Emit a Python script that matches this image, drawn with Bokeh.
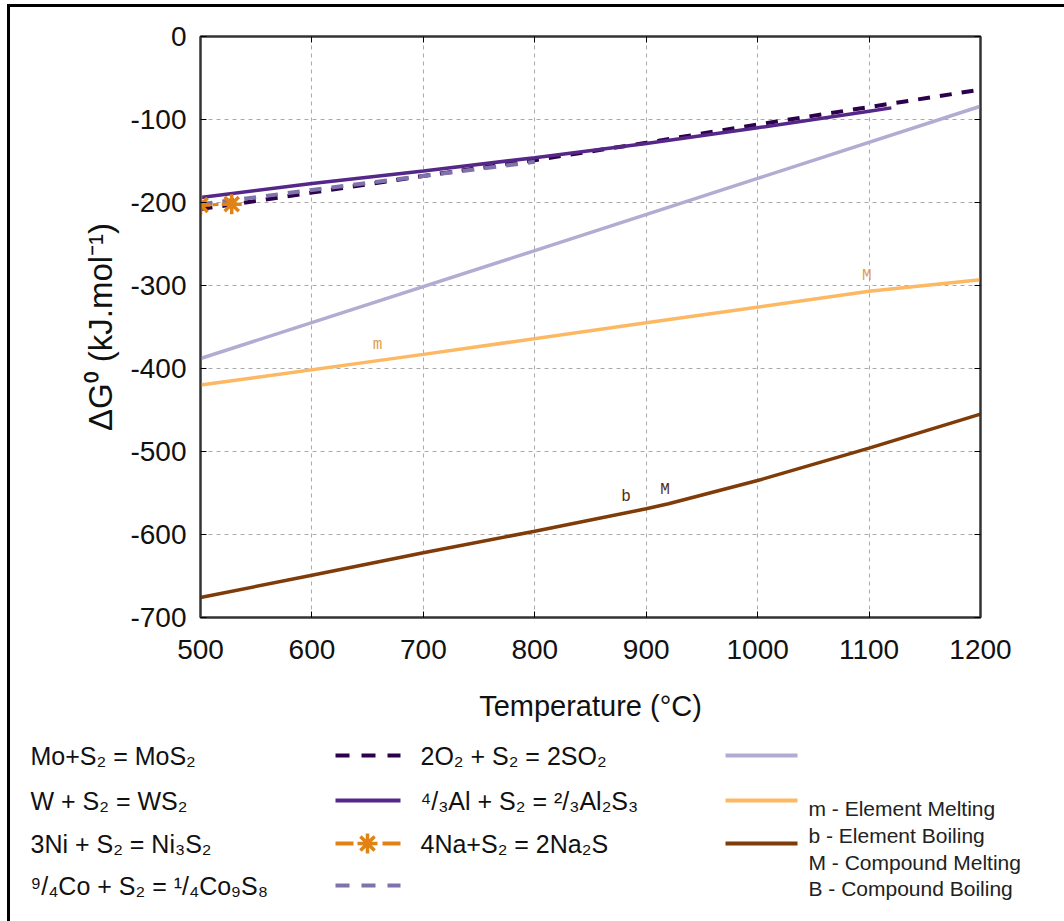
from bokeh.plotting import figure
from bokeh.layouts import column, row
from bokeh.models import Range1d, FixedTicker, LinearAxis
from bokeh.core.properties import value
from bokeh.embed import file_html
from bokeh.resources import INLINE

# ---- data ----
x_ticks = [500, 600, 700, 800, 900, 1000, 1100, 1200]
x_tick_labels = ["500", "600", "700", "800", "900", "1000", "1100", "1200"]
y_ticks = [0, -100, -200, -300, -400, -500, -600, -700]
y_tick_labels = ["0", "-100", "-200", "-300", "-400", "-500", "-600", "-700"]

t_mo = [500, 600, 700, 800, 900, 1000, 1100, 1200]
dg_mo = [-208, -188, -168, -149, -128, -106, -85, -64]

t_w = [500, 600, 700, 800, 900, 1000, 1100, 1120]
dg_w = [-194, -177, -162, -146, -129, -110, -90, -86]

t_ni = [500, 528]
dg_ni = [-203, -202]

t_co = [500, 600, 700, 800]
dg_co = [-202, -185, -168, -151]

t_so2 = [500, 800, 1000, 1200]
dg_so2 = [-388, -258, -171, -84]

t_al = [500, 700, 900, 1100, 1200]
dg_al = [-420, -383, -345, -307, -293]

t_na = [500, 600, 700, 800, 900, 920, 1000, 1100, 1200]
dg_na = [-676, -649, -622, -596, -569, -563, -535, -496, -455]

al_mark_t = [659, 1098]
al_mark_dg = [-372, -288]
al_mark_txt = ["m", "M"]

na_mark_t = [882, 917]
na_mark_dg = [-555, -546]
na_mark_txt = ["b", "M"]

names_col1 = ["Mo+S₂ = MoS₂", "W + S₂ = WS₂", "3Ni + S₂ = Ni₃S₂", "⁹/₄Co + S₂ = ¹/₄Co₉S₈"]
names_col2 = ["2O₂ + S₂ = 2SO₂", "⁴/₃Al + S₂ = ²/₃Al₂S₃", "4Na+S₂ = 2Na₂S"]
notes = ["m - Element Melting", "b  - Element Boiling", "M - Compound Melting", "B  - Compound Boiling"]

C_MO, C_W, C_NI, C_CO = "#2d004b", "#542788", "#e08214", "#8073ac"
C_SO2, C_AL, C_NA = "#b2abd2", "#fdb863", "#7f3b08"

FONT = "Liberation Sans"

# ---- main chart ----
p = figure(width=1054, height=718, output_backend="svg", toolbar_location=None,
           x_range=Range1d(500, 1200), y_range=Range1d(-700, 0),
           min_border_left=190, min_border_right=84, min_border_top=29, min_border_bottom=108)
p.outline_line_color = "#333333"
p.outline_line_width = 2
p.border_fill_color = "white"

for ax in (p.xaxis[0], p.yaxis[0]):
    ax.major_label_text_font = FONT
    ax.major_label_text_font_size = "28px"
    ax.major_label_text_color = "#111111"
    ax.axis_label_text_font = FONT
    ax.axis_label_text_font_style = "normal"
    ax.axis_label_text_color = "#111111"
    ax.major_tick_in = 6
    ax.major_tick_out = 0
    ax.minor_tick_line_color = None
    ax.axis_line_color = "#333333"
    ax.axis_line_width = 2

p.xaxis.ticker = FixedTicker(ticks=x_ticks)
p.yaxis.ticker = FixedTicker(ticks=y_ticks)
p.xaxis.major_label_overrides = dict(zip(x_ticks, x_tick_labels))
p.yaxis.major_label_overrides = dict(zip(y_ticks, y_tick_labels))
p.xaxis.axis_label = "Temperature (°C)"
p.yaxis.axis_label = "ΔG⁰ (kJ.mol⁻¹)"
p.xaxis.axis_label_text_font_size = "29px"
p.yaxis.axis_label_text_font_size = "33px"
p.xaxis.major_label_standoff = 22
p.xaxis.axis_label_standoff = 28
p.yaxis.major_label_standoff = 14
p.yaxis.axis_label_standoff = 8

for side, ticks in (("right", y_ticks), ("above", x_ticks)):
    a = LinearAxis(ticker=FixedTicker(ticks=ticks),
                   major_label_overrides={t: "" for t in ticks},
                   major_tick_in=6, major_tick_out=0, major_label_standoff=0,
                   minor_tick_line_color=None, axis_line_color="#333333", axis_line_width=2)
    p.add_layout(a, side)

p.grid.grid_line_color = "#aaaaaa"
p.grid.grid_line_dash = "4 4"
p.grid.grid_line_width = 1

p.line(t_so2, dg_so2, line_color=C_SO2, line_width=3.5)
p.line(t_al, dg_al, line_color=C_AL, line_width=3.5)
p.line(t_na, dg_na, line_color=C_NA, line_width=3.5)
p.line(t_mo, dg_mo, line_color=C_MO, line_width=4, line_dash="12 10")
p.line(t_w, dg_w, line_color=C_W, line_width=3.5)
p.line(t_co, dg_co, line_color=C_CO, line_width=4, line_dash="12 10")
p.line(t_ni, dg_ni, line_color=C_NI, line_width=3, line_dash="6 6")
p.scatter(t_ni, dg_ni, marker="asterisk", size=20, line_color=C_NI, line_width=3.5)

p.text(al_mark_t, al_mark_dg, text=al_mark_txt, text_font=value("Liberation Mono"),
       text_font_size="16px", text_color="#e0a050", text_align="center", text_baseline="middle")
p.text(na_mark_t, na_mark_dg, text=na_mark_txt, text_font=value("Liberation Mono"),
       text_font_size="16px", text_color="#5a2a08", text_align="center", text_baseline="middle")

# ---- legend panel (coordinates are page pixels) ----
lg = figure(width=1054, height=196, output_backend="svg", toolbar_location=None,
            x_range=Range1d(10, 1064), y_range=Range1d(921, 725),
            min_border_left=0, min_border_right=0, min_border_top=0, min_border_bottom=0,
            x_axis_type=None, y_axis_type=None)
lg.outline_line_color = None
lg.grid.visible = False
if "frame_align" in lg.properties():
    lg.frame_align = False
    p.frame_align = False

rows_y = [755, 800, 843, 885]

lg.text([30] * 4, rows_y, text=names_col1, text_font=value(FONT), text_font_size="25px",
        text_color="#111111", text_baseline="middle")
lg.text([420] * 3, rows_y[:3], text=names_col2, text_font=value(FONT), text_font_size="25px",
        text_color="#111111", text_baseline="middle")

lg.line([335, 400], [rows_y[0]] * 2, line_color=C_MO, line_width=4, line_dash="14 12")
lg.line([335, 400], [rows_y[1]] * 2, line_color=C_W, line_width=4)
lg.line([335, 353], [rows_y[2]] * 2, line_color=C_NI, line_width=4)
lg.line([382, 400], [rows_y[2]] * 2, line_color=C_NI, line_width=4)
lg.scatter([367], [rows_y[2]], marker="asterisk", size=20, line_color=C_NI, line_width=3.5)
lg.line([335, 400], [rows_y[3]] * 2, line_color=C_CO, line_width=4, line_dash="14 12")

lg.line([725, 797], [rows_y[0]] * 2, line_color=C_SO2, line_width=4)
lg.line([725, 797], [rows_y[1]] * 2, line_color=C_AL, line_width=4)
lg.line([725, 797], [rows_y[2]] * 2, line_color=C_NA, line_width=4)

lg.text([808] * 4, [808, 835, 862, 888], text=notes, text_font=value(FONT),
        text_font_size="21px", text_color="#222222", text_baseline="middle")

layout = column(p, row(lg), spacing=0, margin=(4, 0, 0, 7),
                styles={"border-left": "3px solid black", "border-top": "3px solid black"})

open("out.html", "w").write(file_html(layout, INLINE))
